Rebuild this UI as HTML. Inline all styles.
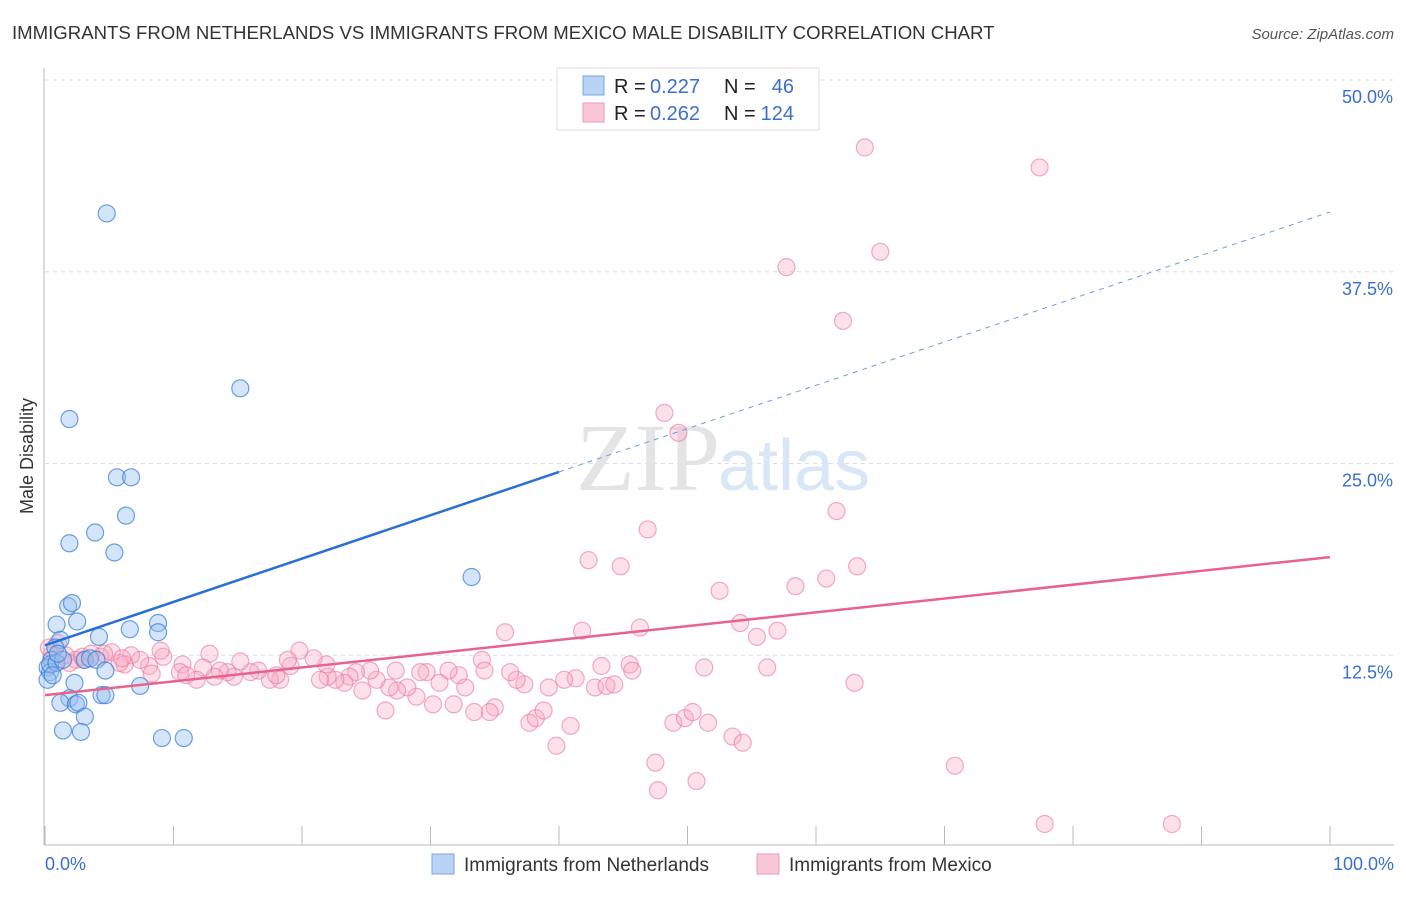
<!DOCTYPE html>
<html><head><meta charset="utf-8"><style>
body{margin:0;background:#fff;font-family:"Liberation Sans",sans-serif}
</style></head><body>
<svg id="chart" width="1406" height="892" xmlns="http://www.w3.org/2000/svg">
<text x="12" y="39" font-size="18.6" fill="#333">IMMIGRANTS FROM NETHERLANDS VS IMMIGRANTS FROM MEXICO MALE DISABILITY CORRELATION CHART</text>
<text x="1394" y="39" font-size="15" fill="#555" text-anchor="end" font-style="italic">Source: ZipAtlas.com</text>
<g id="grid"></g>
<text x="720" y="490" font-size="96" fill="#e4e4e4" text-anchor="end" font-family="Liberation Serif,serif">ZIP</text>
<text x="718" y="490" font-size="72" fill="#d8e6f6">atlas</text>
<line x1="44" y1="68" x2="44" y2="845" stroke="#bbb"/>
<line x1="44" y1="845" x2="1394" y2="845" stroke="#bbb"/>
<g id="xticks"></g>
<text x="45" y="870" font-size="18" fill="#3a6fd0">0.0%</text>
<text x="1394" y="870" font-size="18" fill="#3a6fd0" text-anchor="end">100.0%</text>
<text x="33" y="456" font-size="18" fill="#333" text-anchor="middle" transform="rotate(-90 33 456)">Male Disability</text>
<g id="pts"></g>
<g id="lines"></g>
<g>
<rect x="557" y="68" width="262" height="62" fill="#fff" stroke="#ddd"/>
<rect x="583" y="76" width="21" height="19" fill="#b9d3f4" stroke="#7aa6e3"/>
<rect x="583" y="103" width="21" height="19" fill="#f9c6d5" stroke="#ea9ab4"/>
<text x="614" y="93" font-size="20" fill="#222">R =</text>
<text x="650" y="93" font-size="20" fill="#3a6fd0">0.227</text>
<text x="724" y="93" font-size="20" fill="#222">N =</text>
<text x="794" y="93" font-size="20" fill="#3a6fd0" text-anchor="end">46</text>
<text x="614" y="120" font-size="20" fill="#222">R =</text>
<text x="650" y="120" font-size="20" fill="#3a6fd0">0.262</text>
<text x="724" y="120" font-size="20" fill="#222">N =</text>
<text x="794" y="120" font-size="20" fill="#3a6fd0" text-anchor="end">124</text>
</g>
<g>
<rect x="432" y="854" width="22" height="20" fill="#b9d3f4" stroke="#7aa6e3"/>
<text x="464" y="871" font-size="19" fill="#333">Immigrants from Netherlands</text>
<rect x="757" y="854" width="22" height="20" fill="#f9c6d5" stroke="#ea9ab4"/>
<text x="789" y="871" font-size="19" fill="#333">Immigrants from Mexico</text>
</g>
</svg>
<script>
const yTicks=[12.5,25,37.5,50];
const yTickLabels=["12.5%","25.0%","37.5%","50.0%"];
const xTicks=[0,10,20,30,40,50,60,70,80,90,100];
const blueX=[4.8,15.2,1.9,5.6,6.7,6.3,3.9,1.9,5.4,33.2,1.8,2.1,2.5,0.9,8.8,6.6,8.8,4.2,1.2,0.8,0.5,0.2,0.4,3.1,3.5,4.0,4.7,2.3,7.4,4.4,4.7,1.9,1.2,2.4,2.6,3.1,1.4,2.8,9.1,10.8,0.2,0.4,0.9,1.4,0.6,1.0];
const blueY=[41.3,29.9,27.9,24.1,24.1,21.6,20.5,19.8,19.2,17.6,15.7,15.9,14.7,14.5,14.6,14.2,14.0,13.7,13.5,13.0,12.2,11.7,11.4,12.2,12.3,12.2,11.5,10.7,10.5,9.9,9.9,9.7,9.4,9.3,9.4,8.5,7.6,7.5,7.1,7.1,10.9,11.9,12.0,12.2,11.2,12.6];
const pinkX=[63.8,77.4,65.0,57.7,62.1,48.2,49.3,46.9,61.6,42.3,44.8,63.2,60.8,58.4,52.5,54.1,57.0,55.4,46.3,41.8,35.8,43.3,45.5,45.7,51.3,56.2,63.0,42.8,43.7,44.3,41.3,40.4,39.2,37.3,36.7,36.2,34.0,34.2,32.7,32.2,31.4,29.7,29.2,30.7,30.2,28.9,28.2,27.4,26.5,26.8,25.8,27.3,25.3,24.7,24.2,23.7,23.3,22.6,22.0,21.4,21.9,20.9,19.8,19.1,18.9,18.3,17.5,18.0,16.6,16.0,15.2,14.7,14.2,13.6,13.2,12.8,12.3,11.8,10.7,10.5,9.2,9.0,8.1,8.3,7.4,6.7,6.2,5.8,5.2,4.3,3.0,2.4,1.6,1.0,0.5,1.9,37.7,38.2,38.8,35.0,34.6,33.4,31.8,40.9,39.8,48.9,49.8,50.4,51.6,53.5,54.3,47.5,50.7,47.7,70.8,77.8,87.7,0.3,0.8,2.9,4.6,6.0,11.0,3.6];
const pinkY=[45.6,44.3,38.8,37.8,34.3,28.3,27.0,20.7,21.9,18.7,18.3,18.3,17.5,17.0,16.7,14.6,14.1,13.7,14.3,14.1,14.0,11.8,11.9,11.5,11.7,11.7,10.7,10.4,10.5,10.6,11.0,10.9,10.4,10.6,10.9,11.4,12.2,11.5,10.4,11.2,11.5,11.4,11.4,10.7,9.3,9.8,10.4,10.2,8.9,10.4,10.9,11.5,11.5,10.2,11.4,11.1,10.7,10.9,11.1,10.9,11.9,12.3,12.8,11.8,12.2,10.9,10.9,11.2,11.5,11.4,12.1,11.1,11.4,11.5,11.1,12.6,11.7,10.9,11.9,11.4,12.4,12.8,11.8,11.3,12.2,12.5,11.9,12.0,12.7,12.4,12.2,12.2,12.5,13.3,12.5,12.0,8.1,8.4,8.9,9.1,8.8,8.8,9.3,7.9,6.6,8.1,8.4,8.8,8.1,7.2,6.8,5.5,4.3,3.7,5.3,1.5,1.5,13.0,12.0,12.4,12.6,12.3,11.2,12.6];
const blueFit=[13.15,41.4];
const pinkFit=[9.9,18.9];
const NS="http://www.w3.org/2000/svg";
const X=v=>45+v*12.85, Y=v=>847-v*15.34;
const grid=document.getElementById('grid');
yTicks.forEach((t,i)=>{
 const l=document.createElementNS(NS,'line');
 l.setAttribute('x1',45);l.setAttribute('x2',1394);l.setAttribute('y1',Y(t));l.setAttribute('y2',Y(t));
 l.setAttribute('stroke','#ddd');l.setAttribute('stroke-dasharray','4 4');
 
 
 grid.appendChild(l);
 const tx=document.createElementNS(NS,'text');
 tx.setAttribute('x',1393);tx.setAttribute('y',Y(t)+23);tx.setAttribute('text-anchor','end');
 tx.setAttribute('font-size','18');tx.setAttribute('fill','#3a6fd0');tx.textContent=yTickLabels[i];
 
 
 grid.appendChild(tx);
});
const xt=document.getElementById('xticks');
xTicks.forEach(t=>{
 const l=document.createElementNS(NS,'line');
 l.setAttribute('x1',X(t));l.setAttribute('x2',X(t));l.setAttribute('y1',826);l.setAttribute('y2',845);
 l.setAttribute('stroke','#bbb');
 
 
 xt.appendChild(l);
});
const pts=document.getElementById('pts');
function dot(x,y,fill,stroke,name){
 const c=document.createElementNS(NS,'circle');
 c.setAttribute('cx',X(x));c.setAttribute('cy',Y(y));c.setAttribute('r',8.5);
 c.setAttribute('fill',fill);c.setAttribute('stroke',stroke);c.setAttribute('stroke-width','1.2');
 
 
 pts.appendChild(c);
}
pinkX.forEach((x,i)=>dot(x,pinkY[i],'rgba(247,170,195,0.35)','rgba(232,120,155,0.6)','mexico-point'));
blueX.forEach((x,i)=>dot(x,blueY[i],'rgba(150,190,240,0.4)','rgba(60,130,215,0.75)','netherlands-point'));
const lines=document.getElementById('lines');
function ln(x1,y1,x2,y2,col,w,dash,name){
 const l=document.createElementNS(NS,'line');
 l.setAttribute('x1',X(x1));l.setAttribute('y1',Y(y1));l.setAttribute('x2',X(x2));l.setAttribute('y2',Y(y2));
 l.setAttribute('stroke',col);l.setAttribute('stroke-width',w);if(dash)l.setAttribute('stroke-dasharray',dash);
 
 
 lines.appendChild(l);
}
const bAt=x=>blueFit[0]+(blueFit[1]-blueFit[0])*x/100;
ln(0,blueFit[0],40,bAt(40),'#2a6fd6',2.5,null,'netherlands-trendline');
ln(40,bAt(40),100,blueFit[1],'#6b9be0',1,'5 5','netherlands-trendline-extension');
ln(0,pinkFit[0],100,pinkFit[1],'#e8628e',2.5,null,'mexico-trendline');
</script>
</body></html>
